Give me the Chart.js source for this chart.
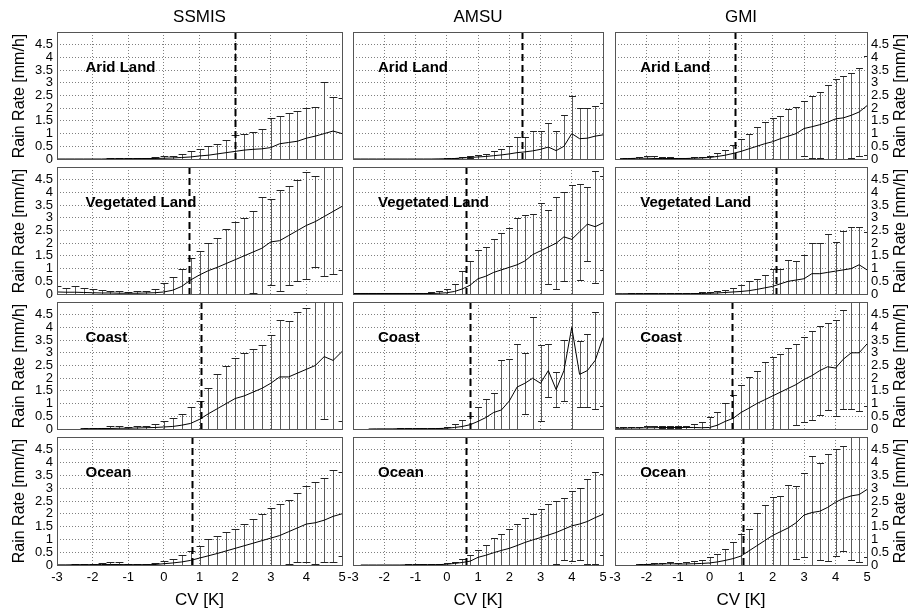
<!DOCTYPE html>
<html><head><meta charset="utf-8">
<script src="https://cdn.jsdelivr.net/npm/chart.js@4.4.1/dist/chart.umd.min.js"></script>
<style>
html,body{margin:0;padding:0;background:#fff;}
#wrap{position:relative;width:910px;height:611px;overflow:hidden;background:#fff;font-family:"Liberation Sans",Arial,sans-serif;}
#wrap canvas{position:absolute;left:0;top:0;}
.t{position:absolute;color:#000;white-space:nowrap;transform:translate(-50%,-50%);line-height:1;}
.rot{transform:translate(-50%,-50%) rotate(-90deg);}
</style></head><body>
<div id="wrap"></div>
<script>
// ---------------- data ----------------
const cvBins = [-3,-2.75,-2.5,-2.25,-2,-1.75,-1.5,-1.25,-1,-0.75,-0.5,-0.25,0,0.25,0.5,0.75,1,1.25,1.5,1.75,2,2.25,2.5,2.75,3,3.25,3.5,3.75,4,4.25,4.5,4.75,5];
const sensors = ['SSMIS','AMSU','GMI'];
const surfaces = ['Arid Land','Vegetated Land','Coast','Ocean'];
const xTicks = [-3,-2,-1,0,1,2,3,4,5];
const yTicks = [0,0.5,1,1.5,2,2.5,3,3.5,4,4.5];
// thresholds (dashed lines) per surface row, per sensor column
const thrArid = [2.0, 2.4, 0.8];
const thrVeg = [0.7, 0.6, 2.1];
const thrCoast = [1.05, 0.75, 0.72];
const thrOcean = [0.8, 0.6, 1.05];

// mean rain rate and upper end of error bar (mean + std), per bin of cvBins
const ssmisAridMean = [0,0,0,0,0,0,0.005,0.01,0.01,0.015,0.02,0.02,0.03,0.04,0.06,0.08,0.12,0.15,0.2,0.25,0.3,0.35,0.38,0.4,0.45,0.6,0.65,0.7,0.82,0.9,1.0,1.1,1.0];
const ssmisAridUp   = [0,0,0,0,0.01,0.01,0.02,0.03,0.03,0.04,0.05,0.06,0.1,0.12,0.2,0.3,0.4,0.5,0.6,0.75,0.95,1.0,1.05,1.2,1.6,1.7,1.8,1.9,2.0,2.05,3.05,2.45,2.4];
const amsuAridMean  = [0,0,0,0,0,0,0,0,0,0,0,0.005,0.01,0.02,0.04,0.06,0.08,0.1,0.13,0.16,0.2,0.25,0.28,0.32,0.38,0.47,0.33,0.5,1.0,0.8,0.82,0.9,0.95];
const amsuAridUp    = [0,0,0,0,0,0,0,0,0,0,0,0.01,0.03,0.05,0.08,0.1,0.15,0.2,0.3,0.38,0.5,0.87,0.85,1.1,1.1,1.4,1.1,1.75,2.5,2.0,2.0,2.1,2.2];
const gmiAridMean   = [null,0.01,0.02,0.03,0.03,0.02,0.02,0.02,0.02,0.02,0.03,0.04,0.06,0.1,0.15,0.22,0.3,0.4,0.5,0.6,0.68,0.8,0.9,1.0,1.2,1.27,1.35,1.45,1.58,1.62,1.72,1.85,2.1];
const gmiAridUp     = [null,0.03,0.05,0.08,0.1,0.1,0.08,0.06,0.05,0.05,0.06,0.08,0.12,0.25,0.35,0.55,0.8,1.0,1.25,1.45,1.6,1.7,1.95,2.05,2.3,2.5,2.65,2.9,3.15,3.25,3.4,3.6,4.05];

const ssmisVegMean  = [0.08,0.07,0.07,0.06,0.05,0.04,0.04,0.03,0.03,0.03,0.04,0.05,0.08,0.15,0.3,0.55,0.75,0.92,1.05,1.2,1.35,1.5,1.65,1.8,2.05,2.1,2.3,2.5,2.7,2.85,3.05,3.25,3.45];
const ssmisVegUp    = [0.3,0.25,0.32,0.25,0.18,0.14,0.12,0.1,0.08,0.1,0.12,0.2,0.42,0.66,1.0,1.4,1.7,2.0,2.2,2.55,2.85,3.0,3.25,3.8,3.75,4.1,4.25,4.5,4.8,4.65,5.4,5.7,5.95];
const amsuVegMean   = [0.02,0.02,0.02,0.02,0.02,0.02,0.02,0.02,0.02,0.02,0.02,0.03,0.05,0.1,0.2,0.35,0.6,0.7,0.85,0.95,1.05,1.15,1.3,1.55,1.7,1.85,2.0,2.25,2.15,2.45,2.75,2.65,2.8];
const amsuVegUp     = [0.04,0.04,0.05,0.05,0.05,0.05,0.04,0.04,0.04,0.05,0.06,0.1,0.2,0.4,0.9,1.3,1.75,1.85,2.15,2.4,2.6,3.0,3.1,3.15,3.6,3.3,3.8,4.0,4.3,4.35,4.2,4.85,4.65];
const gmiVegMean    = [0.01,0.01,0.01,0.01,0.01,0.01,0.01,0.01,0.01,0.01,0.015,0.02,0.03,0.04,0.06,0.08,0.1,0.13,0.18,0.24,0.3,0.4,0.5,0.55,0.6,0.8,0.8,0.85,0.9,0.95,1.0,1.15,0.95];
const gmiVegUp      = [0.01,0.01,0.02,0.02,0.02,0.02,0.03,0.03,0.03,0.04,0.05,0.07,0.08,0.12,0.15,0.25,0.35,0.5,0.6,0.75,1.0,1.0,1.35,1.3,1.55,2.0,2.0,2.35,2.05,2.5,2.65,2.65,2.45];

const ssmisCoastMean = [null,null,null,0.01,0.01,0.02,0.02,0.03,0.03,0.04,0.05,0.06,0.08,0.1,0.15,0.22,0.38,0.6,0.8,1.0,1.2,1.3,1.45,1.6,1.8,2.05,2.05,2.2,2.35,2.5,2.85,2.7,3.05];
const ssmisCoastUp   = [null,null,null,0.02,0.03,0.05,0.1,0.1,0.08,0.1,0.12,0.2,0.3,0.45,0.6,0.85,1.1,1.6,2.15,2.5,2.8,3.0,3.15,3.3,3.7,4.3,4.25,4.6,4.75,5.0,5.3,5.5,5.8];
const amsuCoastMean  = [null,null,0,0.005,0.005,0.005,0.01,0.01,0.01,0.01,0.01,0.02,0.03,0.06,0.1,0.17,0.3,0.45,0.65,0.75,1.1,1.65,1.8,2.0,1.8,2.3,1.55,2.3,4.0,2.15,2.3,2.7,3.6];
const amsuCoastUp    = [null,null,0,0.01,0.01,0.01,0.02,0.02,0.02,0.03,0.04,0.05,0.08,0.2,0.35,0.5,0.85,1.2,1.4,2.7,2.75,3.35,3.0,4.4,3.3,3.35,2.25,3.5,8.0,3.45,3.75,4.6,6.3];
const gmiCoastMean   = [0.03,0.03,0.04,0.04,0.05,0.05,0.06,0.06,0.06,0.06,0.06,0.05,0.06,0.15,0.3,0.42,0.65,0.82,1.0,1.15,1.3,1.45,1.6,1.75,1.95,2.1,2.3,2.45,2.4,2.75,3.0,3.0,3.35];
const gmiCoastUp     = [0.06,0.07,0.08,0.09,0.1,0.1,0.1,0.1,0.1,0.11,0.2,0.27,0.46,0.66,1.02,1.32,1.72,2.05,2.3,2.65,2.82,2.94,3.2,3.35,3.61,3.84,4.06,4.17,4.3,4.7,5.2,5.3,5.8];

const ssmisOceanMean = [0.005,0.005,0.01,0.01,0.01,0.02,0.02,0.02,0.01,0.01,0.01,0.02,0.05,0.08,0.12,0.18,0.27,0.36,0.45,0.55,0.65,0.75,0.85,0.95,1.05,1.15,1.3,1.45,1.6,1.65,1.75,1.9,2.0];
const ssmisOceanUp   = [0.01,0.01,0.02,0.03,0.05,0.08,0.1,0.1,0.04,0.03,0.03,0.08,0.15,0.25,0.38,0.56,0.75,1.0,1.14,1.27,1.42,1.6,1.8,1.98,2.24,2.37,2.55,2.8,3.1,3.25,3.4,3.7,3.65];
const amsuOceanMean  = [null,0,0,0,0,0,0,0.005,0.005,0.01,0.01,0.015,0.03,0.06,0.1,0.15,0.3,0.38,0.48,0.57,0.65,0.76,0.88,0.98,1.07,1.17,1.27,1.4,1.53,1.6,1.7,1.85,1.98];
const amsuOceanUp    = [null,0.01,0.01,0.01,0.01,0.01,0.01,0.02,0.02,0.03,0.03,0.04,0.06,0.12,0.25,0.4,0.6,0.8,1.05,1.2,1.4,1.6,1.85,2.0,2.2,2.4,2.5,2.6,2.9,3.0,3.35,3.65,3.55];
const gmiOceanMean   = [null,null,null,0.01,0.02,0.03,0.04,0.05,0.04,0.04,0.05,0.06,0.08,0.12,0.18,0.25,0.35,0.55,0.75,0.95,1.15,1.3,1.45,1.65,1.95,2.05,2.1,2.25,2.45,2.6,2.7,2.75,2.95];
const gmiOceanUp     = [null,null,null,0.02,0.03,0.06,0.08,0.1,0.08,0.1,0.15,0.2,0.3,0.43,0.62,0.9,1.2,1.4,2.05,2.33,2.65,2.7,3.12,3.08,3.6,4.24,4.0,4.33,4.53,4.66,5.2,5.4,5.6];

const meanSeries = [
  [ssmisAridMean, amsuAridMean, gmiAridMean],
  [ssmisVegMean, amsuVegMean, gmiVegMean],
  [ssmisCoastMean, amsuCoastMean, gmiCoastMean],
  [ssmisOceanMean, amsuOceanMean, gmiOceanMean]
];
const upperSeries = [
  [ssmisAridUp, amsuAridUp, gmiAridUp],
  [ssmisVegUp, amsuVegUp, gmiVegUp],
  [ssmisCoastUp, amsuCoastUp, gmiCoastUp],
  [ssmisOceanUp, amsuOceanUp, gmiOceanUp]
];
const thresholds = [thrArid, thrVeg, thrCoast, thrOcean];

// ---------------- layout ----------------
const W = 910, H = 611;
const colLeft = [57, 353, 615], colRight = [342, 603, 867];
const rowTop = [32, 167, 302, 437], rowBottom = [159, 294, 429, 565];
const YAXW = 40, XAXH = 22;
const FONT = '"Liberation Sans", Arial, sans-serif';
const wrap = document.getElementById('wrap');

function addText(txt, x, y, size, cls) {
  const d = document.createElement('div');
  d.className = 't' + (cls ? ' ' + cls : '');
  d.style.left = x + 'px'; d.style.top = y + 'px';
  d.style.fontSize = size + 'px';
  d.textContent = txt;
  wrap.appendChild(d);
}

const panelPlugin = {
  id: 'panelDecor',
  beforeDatasetsDraw(chart) {
    const o = chart.options.plugins.panelDecor;
    const xs = chart.scales.x, ys = chart.scales.y, ca = chart.chartArea;
    const ctx = chart.ctx;
    ctx.save();
    ctx.beginPath(); ctx.rect(ca.left, ca.top, ca.right - ca.left, ca.bottom - ca.top + 1); ctx.clip();
    ctx.lineWidth = 1;
    const capHalf = xs.getPixelForValue(0.11) - xs.getPixelForValue(0);
    o.mean.forEach((m, i) => {
      const u = o.upper[i];
      if (m === null || u === null) return;
      const lo = 2 * m - u;
      const px = Math.round(xs.getPixelForValue(cvBins[i])) + 0.5;
      const pu = Math.round(ys.getPixelForValue(u)) + 0.5;
      const pl = Math.round(ys.getPixelForValue(lo)) + 0.5;
      ctx.strokeStyle = '#5a5a5a';
      ctx.beginPath(); ctx.moveTo(px, pl); ctx.lineTo(px, pu); ctx.stroke();
      ctx.strokeStyle = '#222';
      ctx.beginPath();
      ctx.moveTo(px - capHalf, pu); ctx.lineTo(px + capHalf, pu);
      ctx.moveTo(px - capHalf, pl); ctx.lineTo(px + capHalf, pl);
      ctx.stroke();
    });
    ctx.restore();
  },
  afterDatasetsDraw(chart) {
    const o = chart.options.plugins.panelDecor;
    const xs = chart.scales.x, ys = chart.scales.y, ca = chart.chartArea;
    const ctx = chart.ctx;
    ctx.save();
    const tx = Math.round(xs.getPixelForValue(o.thr)) + 0.5;
    ctx.strokeStyle = '#000'; ctx.lineWidth = 2; ctx.setLineDash([7, 4]);
    ctx.beginPath(); ctx.moveTo(tx, ca.top); ctx.lineTo(tx, ca.bottom); ctx.stroke();
    ctx.setLineDash([]);
    ctx.strokeStyle = '#555'; ctx.lineWidth = 1;
    ctx.strokeRect(Math.round(ca.left) + 0.5, Math.round(ca.top) + 0.5, Math.round(ca.right - ca.left), Math.round(ca.bottom - ca.top));
    ctx.fillStyle = '#000';
    ctx.font = 'bold 15px ' + FONT;
    ctx.textAlign = 'left'; ctx.textBaseline = 'middle';
    ctx.fillText(o.label, xs.getPixelForValue(-2.2), ys.getPixelForValue(3.6));
    ctx.restore();
  }
};

function makePanel(r, c) {
  const cv = document.createElement('canvas');
  cv.width = W; cv.height = H;
  cv.style.width = W + 'px'; cv.style.height = H + 'px';
  wrap.appendChild(cv);
  const mean = meanSeries[r][c], upper = upperSeries[r][c];
  const showX = r === 3, showY = c !== 1;
  const yw = showY ? YAXW : 0, xh = showX ? XAXH : 0;
  const pad = {
    left: colLeft[c] - (c === 0 ? yw : 0),
    right: W - colRight[c] - (c === 2 ? yw : 0),
    top: rowTop[r],
    bottom: H - rowBottom[r] - xh
  };
  new Chart(cv, {
    type: 'line',
    data: {
      datasets: [{
        data: cvBins.map((x, i) => ({ x: x, y: mean[i] })),
        borderColor: '#000', borderWidth: 1, pointRadius: 0, tension: 0,
        fill: false, spanGaps: false
      }]
    },
    options: {
      responsive: false, animation: false, devicePixelRatio: 1,
      events: [],
      layout: { padding: pad },
      plugins: {
        legend: { display: false }, tooltip: { enabled: false },
        panelDecor: { mean: mean, upper: upper, thr: thresholds[r][c], label: surfaces[r] }
      },
      scales: {
        x: {
          type: 'linear', min: -3, max: 5,
          afterFit(s) { s.height = xh; },
          afterBuildTicks(s) { s.ticks = xTicks.map(v => ({ value: v })); },
          ticks: { display: showX, autoSkip: false, maxRotation: 0, minRotation: 0, padding: 5, color: '#000', font: { family: FONT, size: 13 } },
          grid: { color: '#808080', lineWidth: 1, drawTicks: false },
          border: { display: false, dash: [1, 2] }
        },
        y: {
          type: 'linear', min: 0, max: 5, position: c === 2 ? 'right' : 'left',
          afterFit(s) { s.width = yw; },
          afterBuildTicks(s) { s.ticks = yTicks.concat([5]).map(v => ({ value: v })); },
          ticks: { display: showY, autoSkip: false, padding: 4, color: '#000', font: { family: FONT, size: 13 },
                   callback: v => (v >= 5 ? '' : String(v)) },
          grid: { color: '#808080', lineWidth: 1, drawTicks: false },
          border: { display: false, dash: [1, 2] }
        }
      }
    },
    plugins: [panelPlugin]
  });
}

for (let r = 0; r < 4; r++) for (let c = 0; c < 3; c++) makePanel(r, c);

sensors.forEach((s, c) => addText(s, (colLeft[c] + colRight[c]) / 2, 16, 17));
sensors.forEach((s, c) => addText('CV [K]', (colLeft[c] + colRight[c]) / 2, 599, 17));
for (let r = 0; r < 4; r++) {
  const yc = (rowTop[r] + rowBottom[r]) / 2;
  addText('Rain Rate [mm/h]', 19, yc, 16, 'rot');
  addText('Rain Rate [mm/h]', 900, yc, 16, 'rot');
}
</script>
</body></html>
